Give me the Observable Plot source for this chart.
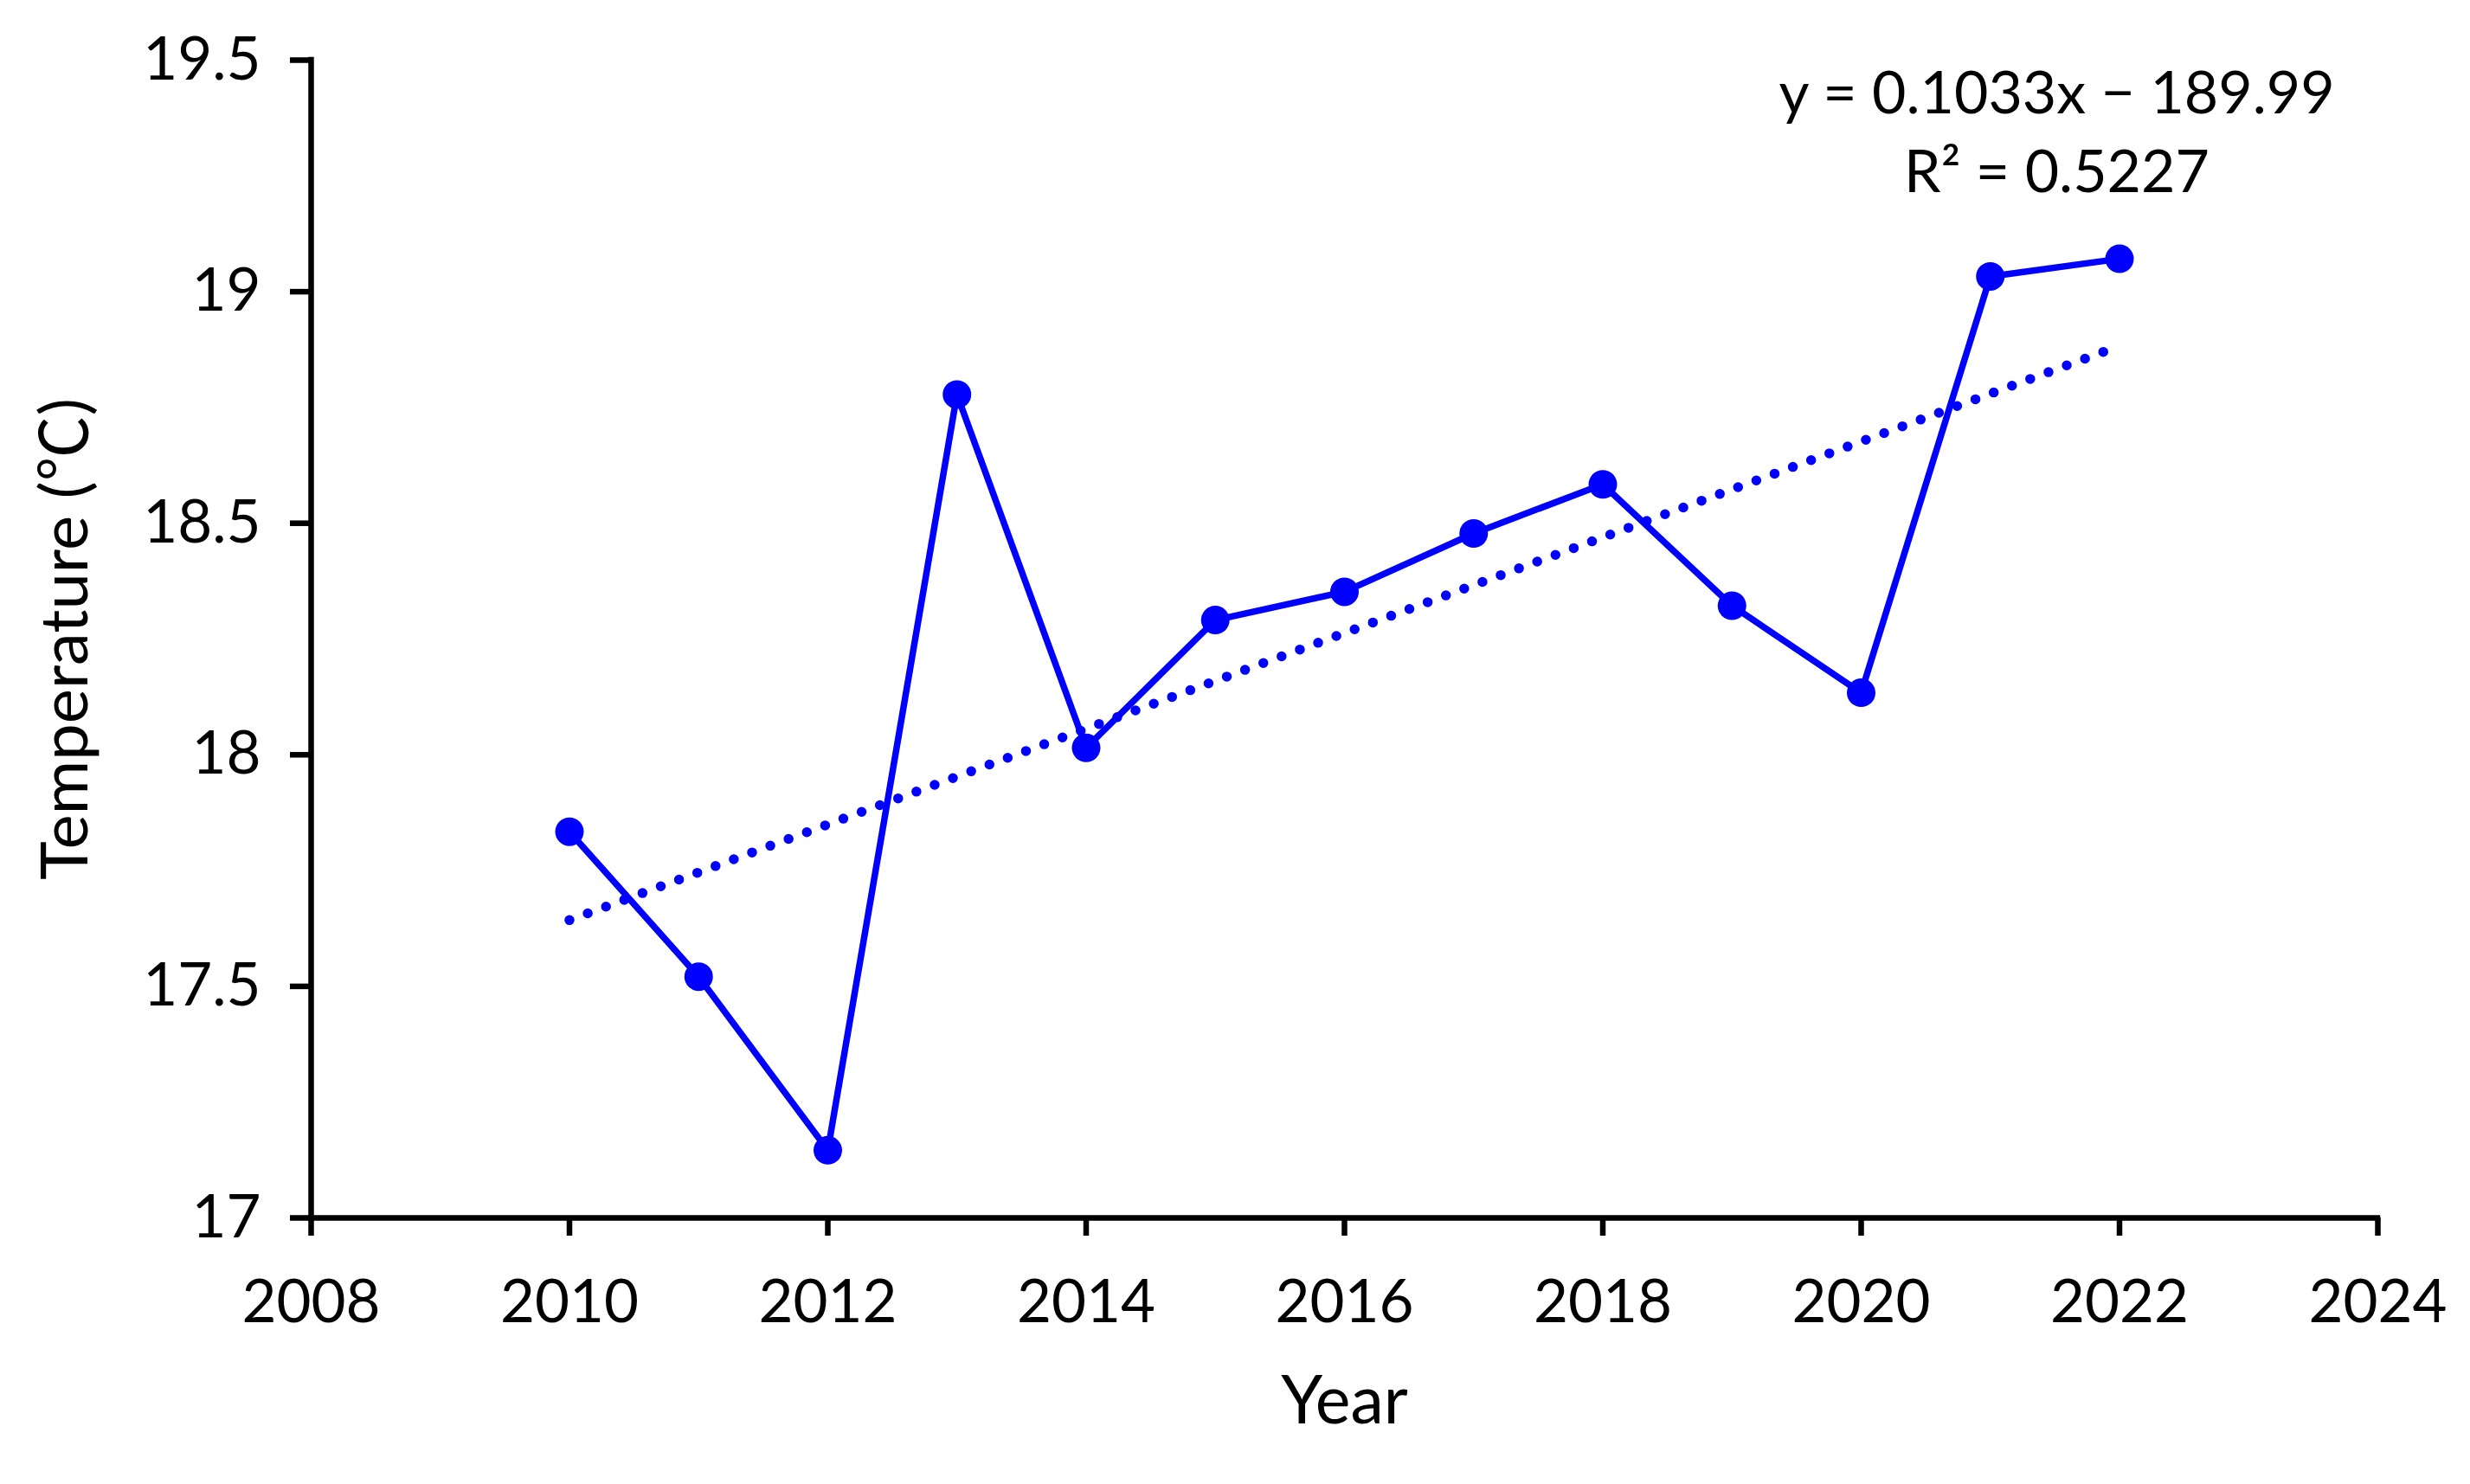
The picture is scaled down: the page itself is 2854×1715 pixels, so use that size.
<!DOCTYPE html>
<html>
<head>
<meta charset="utf-8">
<script src="https://cdn.jsdelivr.net/npm/d3@7"></script>
<script src="https://cdn.jsdelivr.net/npm/@observablehq/plot@0.6"></script>
<style>
  html, body { margin: 0; padding: 0; background: #fff; }
  #chart svg { display: block; }
</style>
</head>
<body>
<div id="chart"></div>
<script>
// ---- data ----
const years = [2010, 2011, 2012, 2013, 2014, 2015, 2016, 2017, 2018, 2019, 2020, 2021, 2022];
const temps = [17.834, 17.521, 17.146, 18.778, 18.015, 18.291, 18.352, 18.478, 18.584, 18.322, 18.134, 19.033, 19.071];
const trendYears = [2010, 2022];
const trendTemps = [17.643, 18.883];
const xTicks = [2008, 2010, 2012, 2014, 2016, 2018, 2020, 2022, 2024];
const xTickLabels = ["2008", "2010", "2012", "2014", "2016", "2018", "2020", "2022", "2024"];
const yTicks = [17, 17.5, 18, 18.5, 19, 19.5];
const yTickLabels = ["17", "17.5", "18", "18.5", "19", "19.5"];
const xTitle = "Year";
const yTitle = "Temperature (\u2103)";
const equationLines = ["y = 0.1033x \u2212 189.99", "R\u00B2 = 0.5227"];

// ---- tables ----
const series = years.map((year, i) => ({year, temp: temps[i]}));
const trend = trendYears.map((year, i) => ({year, temp: trendTemps[i]}));

const blue = "#0000FF";
const ink = "#000000";
const font = "Lato, 'Noto Sans CJK SC', 'Open Sans', 'Noto Sans', sans-serif";

const chart = Plot.plot({
  width: 2854,
  height: 1715,
  marginLeft: 359,
  marginRight: 107,
  marginTop: 69,
  marginBottom: 308,
  style: {fontFamily: font, fontSize: "69px", color: ink, background: "#fff", overflow: "visible"},
  x: {domain: [2008, 2024]},
  y: {domain: [17, 19.5]},
  marks: [
    Plot.ruleY([17], {stroke: ink, strokeWidth: 6.5, strokeLinecap: "square"}),
    Plot.ruleX([2008], {stroke: ink, strokeWidth: 6.5, strokeLinecap: "square"}),
    Plot.axisX({
      ticks: xTicks,
      tickFormat: d => xTickLabels[xTicks.indexOf(d)],
      tickSize: 21,
      tickPadding: 50,
      stroke: ink,
      strokeWidth: 6.5,
      fill: ink,
      fontSize: 69,
      label: null
    }),
    Plot.axisY({
      ticks: yTicks,
      tickFormat: d => yTickLabels[yTicks.indexOf(d)],
      tickSize: 24,
      tickPadding: 34,
      stroke: ink,
      strokeWidth: 6.5,
      fill: ink,
      fontSize: 69,
      label: null
    }),
    Plot.line(trend, {
      x: "year", y: "temp",
      stroke: blue, strokeWidth: 11.5,
      strokeDasharray: "0 22.5", strokeLinecap: "round"
    }),
    Plot.line(series, {
      x: "year", y: "temp",
      stroke: blue, strokeWidth: 7.5, strokeLinejoin: "round"
    }),
    Plot.dot(series, {x: "year", y: "temp", r: 16.5, fill: blue, stroke: null}),
    Plot.text([xTitle], {
      frameAnchor: "bottom", dy: 213,
      fontSize: 77, fill: ink, lineAnchor: "middle"
    }),
    Plot.text([yTitle], {
      frameAnchor: "left", dx: -283, rotate: -90,
      fontSize: 76, fill: ink, lineAnchor: "middle", textAnchor: "middle"
    }),
    Plot.text([equationLines[0]], {
      frameAnchor: "top-right", dx: -371, dy: 40,
      textAnchor: "middle", lineAnchor: "middle", fontSize: 68, fill: ink
    }),
    Plot.text([equationLines[1]], {
      frameAnchor: "top-right", dx: -371, dy: 131,
      textAnchor: "middle", lineAnchor: "middle", fontSize: 68, fill: ink
    })
  ]
});

document.getElementById("chart").appendChild(chart);
</script>
</body>
</html>
